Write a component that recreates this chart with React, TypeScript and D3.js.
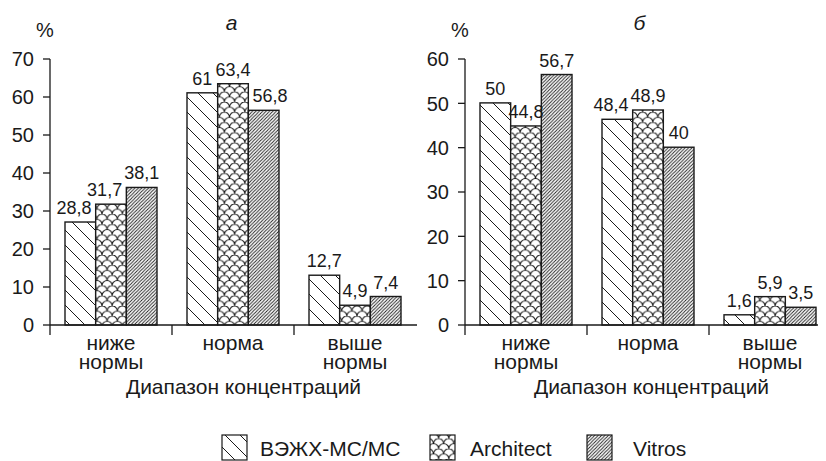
import React, { useEffect } from 'react';
import * as d3 from 'd3';

// ---------- data ----------
const categories: string[][] = [['ниже', 'нормы'], ['норма'], ['выше', 'нормы']];
const seriesNames = ['ВЭЖХ-МС/МС', 'Architect', 'Vitros'];

// panel "а": drawn bar heights and printed labels
const hplcA = [27.1, 61.1, 13.1];
const architectA = [31.8, 63.5, 5.2];
const vitrosA = [36.2, 56.5, 7.5];
const hplcLabelsA = ['28,8', '61', '12,7'];
const architectLabelsA = ['31,7', '63,4', '4,9'];
const vitrosLabelsA = ['38,1', '56,8', '7,4'];
const yTicksA = [0, 10, 20, 30, 40, 50, 60, 70];

// panel "б"
const hplcB = [50.1, 46.4, 2.3];
const architectB = [44.9, 48.5, 6.4];
const vitrosB = [56.5, 40.1, 4.0];
const hplcLabelsB = ['50', '48,4', '1,6'];
const architectLabelsB = ['44,8', '48,9', '5,9'];
const vitrosLabelsB = ['56,7', '40', '3,5'];
const yTicksB = [0, 10, 20, 30, 40, 50, 60];

const panelTitles = ['а', 'б'];
const xTitle = 'Диапазон концентраций';
const yUnit = '%';

// ---------- layout ----------
const W = 826;
const H = 461;
const FONT = '"Liberation Sans", Arial, Helvetica, sans-serif';
const INK = '#1a1a1a';
const fills = ['url(#hatchBack)', 'url(#scales)', 'url(#hatchFine)'];
const LABEL_FS = 18;

interface PanelCfg {
  x0: number;
  x1: number;
  axisEnd: number;
  yMax: number;
  ticks: number[];
  heights: number[][];
  labels: string[][];
  title: string;
}

const panels: PanelCfg[] = [
  {
    x0: 50, x1: 416, axisEnd: 417, yMax: 70, ticks: yTicksA,
    heights: [hplcA, architectA, vitrosA],
    labels: [hplcLabelsA, architectLabelsA, vitrosLabelsA],
    title: panelTitles[0],
  },
  {
    x0: 465, x1: 831, axisEnd: 818, yMax: 60, ticks: yTicksB,
    heights: [hplcB, architectB, vitrosB],
    labels: [hplcLabelsB, architectLabelsB, vitrosLabelsB],
    title: panelTitles[1],
  },
];

const Y0 = 325;
const YTOP = 59;

function textWidth(s: string, fs: number) {
  let w = 0;
  for (const ch of s) w += ch === ',' ? 0.278 : 0.556;
  return w * fs;
}

interface LabelBox {
  cx: number;
  y: number;
  w: number;
  text: string;
}

// push neighbouring value labels apart: the label of the shorter bar gives way
function separate(boxes: LabelBox[]) {
  const gap = 2;
  for (let i = 0; i < boxes.length - 1; i++) {
    const a = boxes[i];
    const b = boxes[i + 1];
    if (Math.abs(a.y - b.y) >= 29) continue;
    const ov = a.cx + a.w / 2 + gap - (b.cx - b.w / 2);
    if (ov > 0) {
      if (a.y > b.y) a.cx -= ov;
      else b.cx += ov;
    }
  }
  return boxes;
}

function Panel({ cfg }: { cfg: PanelCfg }) {
  const catKeys = categories.map((c) => c.join(' '));
  const x = d3.scaleBand<string>().domain(catKeys).range([cfg.x0, cfg.x1]).padding(0);
  const groupW = 92;
  const inset = (x.bandwidth() - groupW) / 2;
  const xs = d3.scaleBand<string>().domain(seriesNames).range([inset, inset + groupW]).padding(0);
  const y = d3.scaleLinear().domain([0, cfg.yMax]).range([Y0, YTOP]);
  const cx = (cfg.x0 + cfg.axisEnd) / 2;

  const labelGroups: LabelBox[][] = catKeys.map((c, ci) =>
    separate(
      seriesNames.map((s, si) => {
        const text = cfg.labels[si][ci];
        return {
          cx: (x(c) as number) + (xs(s) as number) + xs.bandwidth() / 2,
          y: y(cfg.heights[si][ci]) - 8,
          w: textWidth(text, LABEL_FS),
          text,
        };
      })
    )
  );

  return (
    <g>
      {/* bars */}
      {seriesNames.map((s, si) =>
        catKeys.map((c, ci) => {
          const v = cfg.heights[si][ci];
          const bx = (x(c) as number) + (xs(s) as number);
          return (
            <rect
              key={s + c}
              x={bx}
              y={y(v)}
              width={xs.bandwidth()}
              height={Y0 - y(v)}
              fill={fills[si]}
              stroke={INK}
              strokeWidth={1.4}
            />
          );
        })
      )}
      {/* value labels */}
      {labelGroups.map((g, ci) =>
        g.map((b, si) => (
          <text key={'l' + ci + '-' + si} x={b.cx} y={b.y} textAnchor="middle" fontSize={LABEL_FS} fill={INK}>
            {b.text}
          </text>
        ))
      )}
      {/* y axis */}
      <line x1={cfg.x0} x2={cfg.x0} y1={y(cfg.yMax)} y2={Y0 + 10} stroke={INK} strokeWidth={1.3} />
      {cfg.ticks.map((t) => (
        <g key={t}>
          <line x1={cfg.x0 - 7} x2={cfg.x0} y1={y(t)} y2={y(t)} stroke={INK} strokeWidth={1.3} />
          <text x={cfg.x0 - 16} y={y(t)} dy="0.36em" textAnchor="end" fontSize={20} fill={INK}>
            {t}
          </text>
        </g>
      ))}
      <text x={cfg.x0 - 5} y={37} textAnchor="middle" fontSize={20} fill={INK}>
        {yUnit}
      </text>
      {/* x axis */}
      <line x1={cfg.x0} x2={cfg.axisEnd} y1={Y0} y2={Y0} stroke={INK} strokeWidth={1.3} />
      {catKeys.slice(1).map((c) => (
        <line key={'t' + c} x1={x(c)} x2={x(c)} y1={Y0} y2={Y0 + 10} stroke={INK} strokeWidth={1.3} />
      ))}
      {categories.map((lines, ci) =>
        lines.map((ln, li) => (
          <text
            key={'c' + ci + '-' + li}
            x={(x(catKeys[ci]) as number) + x.bandwidth() / 2}
            y={349.5 + li * 19}
            textAnchor="middle"
            fontSize={21}
            fill={INK}
          >
            {ln}
          </text>
        ))
      )}
      <text x={cx + 10} y={394} textAnchor="middle" fontSize={21} fill={INK}>
        {xTitle}
      </text>
      <text x={cx - 2} y={30} textAnchor="middle" fontSize={21} fontStyle="italic" fill={INK}>
        {cfg.title}
      </text>
    </g>
  );
}

export default function App() {
  useEffect(() => {
    document.body.style.margin = '0';
  }, []);

  const legendX = [222, 430, 587];
  const legendTextX = [260, 470, 633];
  return (
    <div style={{ position: 'absolute', left: 0, top: 0 }}>
      <svg width={W} height={H} viewBox={`0 0 ${W} ${H}`} style={{ display: 'block', fontFamily: FONT }}>
        <defs>
          <pattern id="hatchBack" patternUnits="userSpaceOnUse" width={15} height={15}>
            <rect width={15} height={15} fill="#fff" />
            <path d="M0,0 L15,15 M-2,13 L2,17 M13,-2 L17,2" stroke={INK} strokeWidth={1} />
          </pattern>
          <pattern id="scales" patternUnits="userSpaceOnUse" width={10.2} height={10.2}>
            <rect width={10.2} height={10.2} fill="#fff" />
            <path
              d="M-5.1,5.1 A5.1,5.1 0 0 1 5.1,5.1 M5.1,5.1 A5.1,5.1 0 0 1 15.3,5.1 M0,10.2 A5.1,5.1 0 0 1 10.2,10.2"
              fill="none"
              stroke={INK}
              strokeWidth={1.15}
            />
          </pattern>
          <pattern id="hatchFine" patternUnits="userSpaceOnUse" width={3.4} height={3.4}>
            <rect width={3.4} height={3.4} fill="#fff" />
            <path d="M-0.85,4.25 L4.25,-0.85 M-0.85,0.85 L0.85,-0.85 M2.55,4.25 L4.25,2.55" stroke={INK} strokeWidth={0.9} />
          </pattern>
        </defs>
        <rect width={W} height={H} fill="#fff" />
        {panels.map((p, i) => (
          <Panel key={i} cfg={p} />
        ))}
        {/* legend */}
        {seriesNames.map((s, si) => (
          <g key={s}>
            <rect x={legendX[si]} y={435} width={25} height={25} fill={fills[si]} stroke={INK} strokeWidth={1.2} />
            <text x={legendTextX[si]} y={456} fontSize={21} fill={INK}>
              {s}
            </text>
          </g>
        ))}
      </svg>
    </div>
  );
}
